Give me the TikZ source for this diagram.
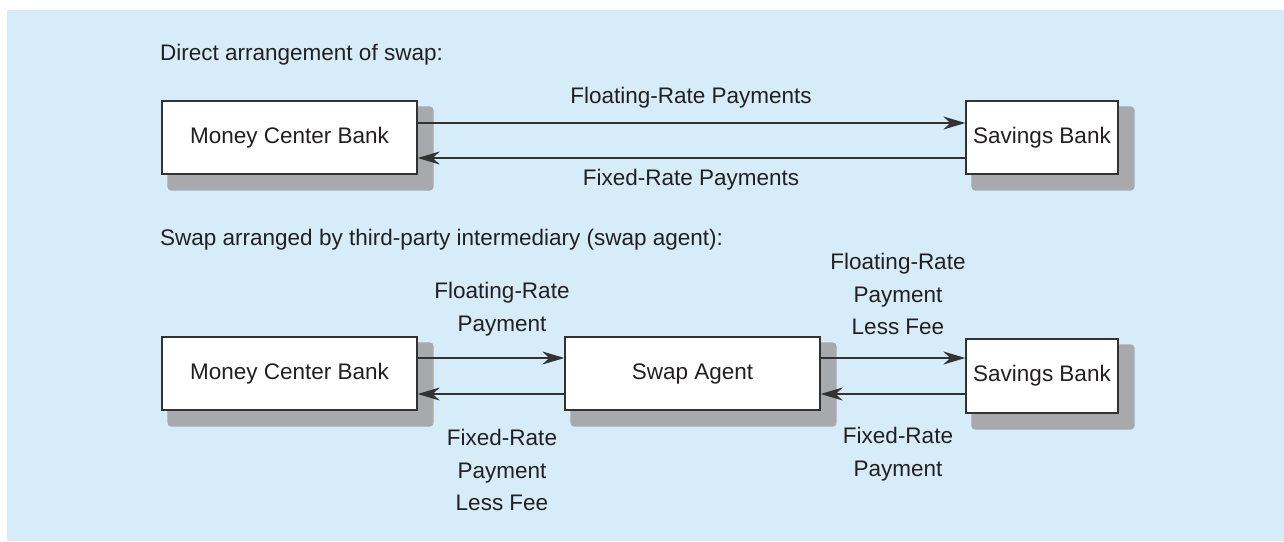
\documentclass[tikz,border=0pt]{standalone}
\usepackage{fontspec}
\setmainfont{Liberation Sans}
\usetikzlibrary{arrows.meta,calc}
\definecolor{bgblue}{RGB}{214,236,249}
\definecolor{shadowgray}{RGB}{167,169,172}
\definecolor{inkc}{RGB}{35,31,32}
\definecolor{linec}{RGB}{50,50,50}
\pgfdeclarelayer{bg}
\pgfdeclarelayer{shad}
\pgfsetlayers{bg,shad,main}
\tikzset{
  boxnode/.style={draw=linec, line width=1.3pt, fill=white, inner sep=0pt,
    font=\fontsize{22.5}{32}\selectfont, text=inkc},
  lbl/.style={inner sep=0pt, align=center, font=\fontsize{22.5}{32.5}\selectfont, text=inkc},
  flow/.style={draw=linec, line width=1.4pt, -{Stealth[length=22pt,width=13pt,inset=7pt]}},
}
\newcommand{\boxshadow}[1]{%
  \begin{pgfonlayer}{shad}
    \fill[shadowgray, rounded corners=4pt] ([shift={(6,6)}]#1.north west) rectangle ([shift={(16,16)}]#1.south east);
  \end{pgfonlayer}}
\begin{document}
\begin{tikzpicture}[x=1pt,y=-1pt]
\useasboundingbox (0,0) rectangle (1284,541);
\begin{pgfonlayer}{bg}
  \fill[bgblue] (7,10) rectangle (1284,541);
\end{pgfonlayer}

% headings
\node[lbl, anchor=west] (h1) at (160,55) {Direct arrangement of swap:};
\node[lbl, anchor=west] (h2) at (160,240) {Swap arranged by third-party intermediary (swap agent):};

% top row
\node[boxnode, minimum width=255pt, minimum height=73pt] (mcb1) at (289.5,137.5) {Money Center Bank};
\node[boxnode, minimum width=152pt, minimum height=73pt] (sb1) at (1042,137.5) {Savings Bank};
\boxshadow{mcb1}
\boxshadow{sb1}
\draw[flow] (mcb1.east |- 0,123) -- (sb1.west |- 0,123);
\draw[flow] (sb1.west |- 0,158) -- (mcb1.east |- 0,158);
\node[lbl] (l1) at (691,98) {Floating-Rate Payments};
\node[lbl] (l2) at (691,180) {Fixed-Rate Payments};

% bottom row
\node[boxnode, minimum width=255pt, minimum height=73pt] (mcb2) at (289.5,373.5) {Money Center Bank};
\node[boxnode, minimum width=255pt, minimum height=73pt] (sa) at (692.5,373.5) {Swap Agent};
\node[boxnode, minimum width=152pt, minimum height=74pt] (sb2) at (1042,376) {Savings Bank};
\boxshadow{mcb2}
\boxshadow{sa}
\boxshadow{sb2}
\draw[flow] (mcb2.east |- 0,358) -- (sa.west |- 0,358);
\draw[flow] (sa.west |- 0,394) -- (mcb2.east |- 0,394);
\draw[flow] (sa.east |- 0,358) -- (sb2.west |- 0,358);
\draw[flow] (sb2.west |- 0,394) -- (sa.east |- 0,394);

\node[lbl] (l3) at (502,309) {Floating-Rate\\Payment};
\node[lbl] (l4) at (898,294) {Floating-Rate\\Payment\\Less Fee};
\node[lbl] (l5) at (502,470) {Fixed-Rate\\Payment\\Less Fee};
\node[lbl] (l6) at (898,454) {Fixed-Rate\\Payment};
\end{tikzpicture}
\end{document}
